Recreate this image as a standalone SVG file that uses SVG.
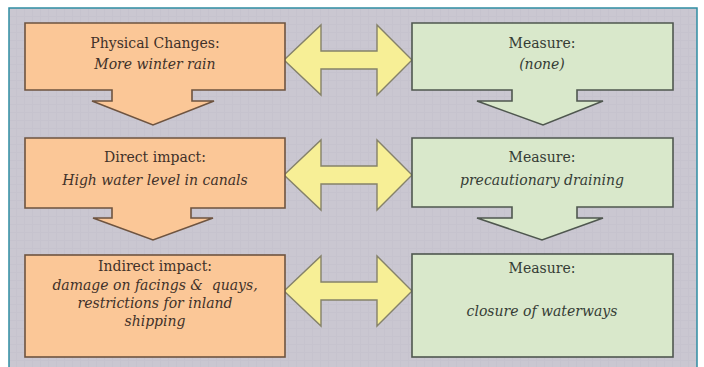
<svg xmlns="http://www.w3.org/2000/svg" width="704" height="367" viewBox="0 0 704 367">
<style>
.bg{fill:#cac7d1;stroke:#2f8da3;stroke-width:1.5}
.orange{fill:#fbc797;stroke:#6e5440;stroke-width:1.6}
.green{fill:#d9e8cb;stroke:#4f574f;stroke-width:1.6}
.dbl{fill:#f7ef96;stroke:#85826a;stroke-width:1.4}
text{font-family:"DejaVu Serif","Liberation Serif",serif;font-size:14px;text-anchor:middle}
.tl{fill:#3f3129}
.tr{fill:#353c35}
.it{font-style:italic}
</style>
<defs>
<pattern id="grid" width="8" height="8" patternUnits="userSpaceOnUse">
<path d="M0,0.5H8M0.5,0V8" stroke="#bfbcc8" stroke-width="1" fill="none"/>
</pattern>
<path id="dbl" d="M284,0 L321,-35 V-9 H377 V-35 L412,0 L377,35 V9 H321 V35 Z"/>
</defs>
<rect x="0" y="0" width="704" height="367" fill="#ffffff"/>
<rect class="bg" x="9" y="8" width="688" height="370"/>
<rect x="10" y="9" width="686" height="358" fill="url(#grid)" opacity="0.35"/>
<g id="connectors">
<use href="#dbl" class="dbl" transform="translate(0,60)"/>
<use href="#dbl" class="dbl" transform="translate(0,175)"/>
<use href="#dbl" class="dbl" transform="translate(0,291)"/>
</g>
<g id="physical">
<path class="orange" d="M25,23 H285 V90 H192 V101 H214 L153,125 L92,101 H112 V90 H25 Z"/>
<text class="tl" x="155" y="48">Physical Changes:</text>
<text class="tl it" x="155" y="69">More winter rain</text>
</g>
<g id="direct">
<path class="orange" d="M25,138 H285 V208 H191 V218 H213 L153,240 L93,218 H112 V208 H25 Z"/>
<text class="tl" x="155" y="162">Direct impact:</text>
<text class="tl it" x="155" y="185">High water level in canals</text>
</g>
<g id="indirect">
<rect class="orange" x="25" y="255" width="260" height="102"/>
<text class="tl" x="155" y="271">Indirect impact:</text>
<text class="tl it" x="155" y="290" xml:space="preserve">damage on facings &amp;  quays,</text>
<text class="tl it" x="155" y="308">restrictions for inland</text>
<text class="tl it" x="155" y="326">shipping</text>
</g>
<g id="measure1">
<path class="green" d="M412,23 H673 V90 H577 V101 H603 L543,125 L477,101 H512 V90 H412 Z"/>
<text class="tr" x="542" y="48">Measure:</text>
<text class="tr it" x="542" y="69">(none)</text>
</g>
<g id="measure2">
<path class="green" d="M412,138 H673 V207 H577 V218 H603 L542,240 L477,218 H512 V207 H412 Z"/>
<text class="tr" x="542" y="162">Measure:</text>
<text class="tr it" x="542" y="185">precautionary draining</text>
</g>
<g id="measure3">
<rect class="green" x="412" y="254" width="261" height="103"/>
<text class="tr" x="542" y="273">Measure:</text>
<text class="tr it" x="542" y="316">closure of waterways</text>
</g>
</svg>
